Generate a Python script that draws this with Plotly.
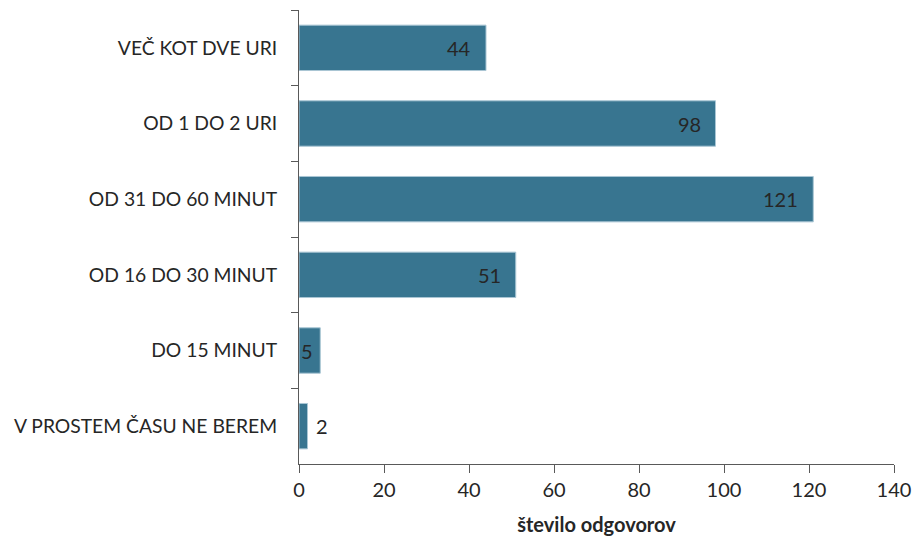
import plotly.graph_objects as go

categories = ["VEČ KOT DVE URI", "OD 1 DO 2 URI", "OD 31 DO 60 MINUT",
              "OD 16 DO 30 MINUT", "DO 15 MINUT", "V PROSTEM ČASU NE BEREM"]
values = [44, 98, 121, 51, 5, 2]
x_ticks = [0, 20, 40, 60, 80, 100, 120, 140]
x_title = "število odgovorov"

FONT = "Lato"
TXT = "#262626"
FS = 20

fig = go.Figure()
fig.add_trace(go.Bar(
    x=values, y=categories, orientation="h",
    marker=dict(color="#387590", line=dict(color="#a9c6d4", width=1)),
    hoverinfo="x+y",
))

annotations = []
for c, v in zip(categories, values):
    if v < 3:
        annotations.append(dict(x=v, y=c, text=str(v), showarrow=False,
                                xanchor="left", xshift=6))
    elif v < 10:
        annotations.append(dict(x=0, y=c, text=str(v), showarrow=False,
                                xanchor="left", xshift=0))
    else:
        annotations.append(dict(x=v, y=c, text=str(v), showarrow=False,
                                xanchor="right", xshift=-13))
for a in annotations:
    a["font"] = dict(family=FONT, size=FS, color=TXT)
    a["xref"] = "x"
    a["yref"] = "y"

fig.update_layout(
    width=915, height=541,
    margin=dict(l=299, r=21, t=10, b=77, autoexpand=False),
    plot_bgcolor="white", paper_bgcolor="white",
    bargap=0.4,
    showlegend=False,
    font=dict(family=FONT, size=FS, color=TXT),
    annotations=annotations,
    xaxis=dict(
        range=[0, 140], tickvals=x_ticks, showgrid=False, zeroline=False,
        showline=True, linecolor="#595959", linewidth=1,
        ticks="outside", ticklen=8, tickcolor="#595959",
        tickfont=dict(family=FONT, size=FS, color=TXT),
        ticklabeloverflow="allow",
        title=dict(text="<b>" + x_title + "</b>", font=dict(family=FONT, size=20, color=TXT), standoff=17),
        automargin=False,
    ),
    yaxis=dict(
        autorange="reversed", showgrid=False, zeroline=False,
        showline=True, linecolor="#595959", linewidth=1,
        ticks="outside", ticklen=7, tickcolor="#595959", tickson="boundaries",
        tickfont=dict(family=FONT, size=19.3, color=TXT),
        ticklabelstandoff=17,
        ticklabeloverflow="allow",
        automargin=False,
    ),
)

fig.write_html(
    "out.html",
    config={"displayModeBar": False},
    post_script="document.body.style.margin='0';document.body.style.overflow='hidden';",
)
